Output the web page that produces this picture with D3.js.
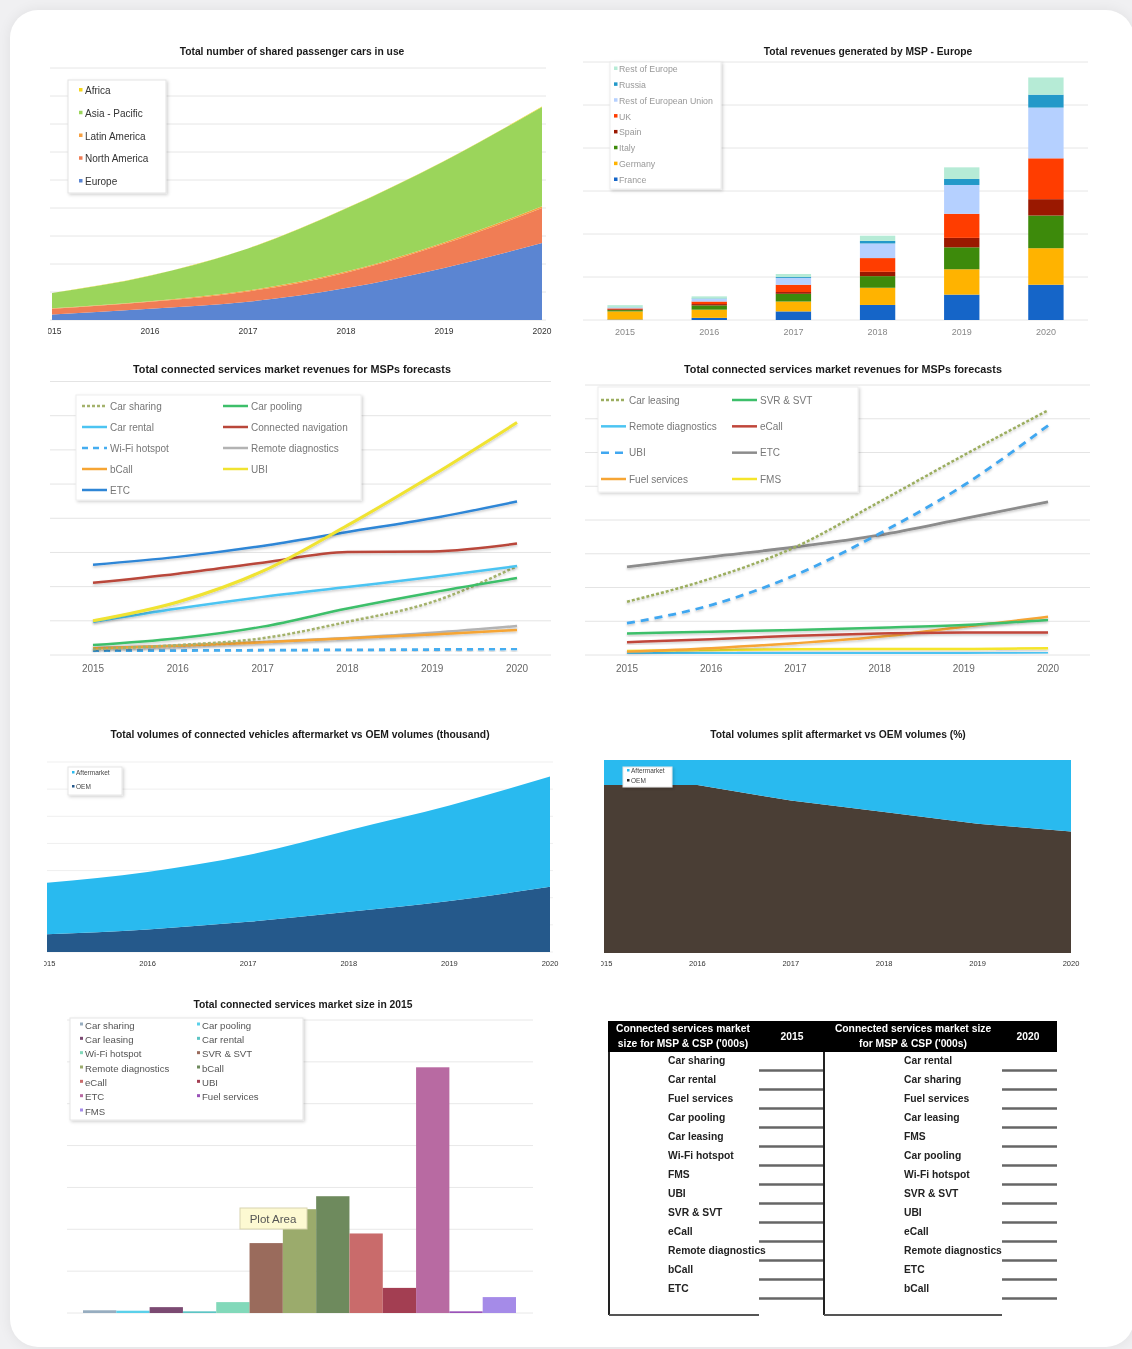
<!DOCTYPE html>
<html>
<head>
<meta charset="utf-8">
<script src="https://cdn.jsdelivr.net/npm/d3@7"></script>
<style>
  body { margin: 0; background: #f0f0f2; width: 1132px; height: 1349px; overflow: hidden; position: relative; }
  #card { position: absolute; left: 10px; top: 10px; width: 1124px; height: 1337px; background: #fff;
          border-radius: 28px; box-shadow: 0 0 14px rgba(0,0,0,0.07); }
  #chart { position: absolute; left: 0; top: 0; filter: blur(0.6px); }
</style>
</head>
<body>
<div id="card"></div>
<svg id="chart" width="1132" height="1349"></svg>
<script>
var years = ["2015", "2016", "2017", "2018", "2019", "2020"];

// 1. shared passenger cars in use (thousand)
var regions = ["Europe", "North America", "Latin America", "Asia - Pacific", "Africa"];
var carsEurope = [20, 40, 65, 114, 186, 275];
var carsNorthAm = [20, 25, 37, 55, 86, 125];
var carsLatAm = [2, 2, 3, 4, 5, 6];
var carsAsiaPac = [54, 91, 150, 225, 290, 355];
var carsAfrica = [0.5, 0.6, 0.8, 1, 1.2, 1.5];

// 2. MSP revenues Europe
var countries = ["France", "Germany", "Italy", "Spain", "UK", "Rest of European Union", "Russia", "Rest of Europe"];
var revFrance = [1, 5, 20, 35, 59, 82];
var revGermany = [19, 19, 23, 40, 59, 85];
var revItaly = [3, 10, 18, 27, 51, 76];
var revSpain = [2, 3, 4, 10, 22, 38];
var revUK = [2, 6, 17, 32, 56, 95];
var revRestEU = [2, 6, 16, 34, 67, 118];
var revRussia = [0.5, 1, 2, 6, 14, 30];
var revRestEurope = [5, 5, 7, 12, 27, 40];

// 3. connected services revenues forecast (a)
var fcA_carSharing = [1.7, 2.9, 4.9, 9.7, 15.5, 26];
var fcA_carPooling = [2.9, 4.9, 8.3, 13.6, 18.3, 22.5];
var fcA_carRental = [9.7, 13.6, 17, 19.9, 22.8, 26];
var fcA_connNav = [21.1, 23.8, 27, 30.1, 30.3, 32.6];
var fcA_wifi = [1.2, 1.3, 1.4, 1.5, 1.6, 1.8];
var fcA_remoteDiag = [2, 2.8, 3.8, 5, 6.5, 8.5];
var fcA_bCall = [2, 2.7, 3.7, 4.9, 6, 7.3];
var fcA_ubi = [10, 15.5, 24.5, 37.9, 52.5, 68];
var fcA_etc = [26.4, 28.7, 31.9, 36, 40, 44.9];

// 4. connected services revenues forecast (b)
var fcB_carLeasing = [15.8, 22.7, 32, 45.4, 59.2, 72.5];
var fcB_svr = [6.4, 6.9, 7.4, 8.1, 8.9, 10.4];
var fcB_remoteDiag = [0.6, 0.6, 0.6, 0.7, 0.7, 0.8];
var fcB_eCall = [3.8, 4.7, 5.7, 6.4, 6.7, 6.7];
var fcB_ubi = [9.4, 14.8, 23.7, 36, 50.3, 68];
var fcB_etc = [26.1, 29.1, 32, 35.5, 40.4, 45.4];
var fcB_fuel = [1, 2, 3.5, 5.4, 8.4, 11.3];
var fcB_fms = [1.2, 1.5, 1.7, 1.8, 1.8, 2];

// 5. connected vehicles volumes (thousand)
var volOEM = [65, 83, 111, 148, 188, 240];
var volAfter = [190, 212, 246, 301, 352, 407];

// 6. split (%)
var shareOEM = [87, 87, 79, 73, 67, 63];
var shareAfter = [13, 13, 21, 27, 33, 37];

// 7. market size 2015
var services = ["Car sharing", "Car pooling", "Car leasing", "Car rental", "Wi-Fi hotspot", "SVR & SVT",
                "Remote diagnostics", "bCall", "eCall", "UBI", "ETC", "Fuel services", "FMS"];
var size2015 = [6.5, 5.5, 14, 4, 26, 167, 248, 279, 190, 60, 587, 4, 38];

// 8. ranking table
var rank2015 = ["Car sharing", "Car rental", "Fuel services", "Car pooling", "Car leasing", "Wi-Fi hotspot", "FMS",
                "UBI", "SVR & SVT", "eCall", "Remote diagnostics", "bCall", "ETC"];
var rank2020 = ["Car rental", "Car sharing", "Fuel services", "Car leasing", "FMS", "Car pooling", "Wi-Fi hotspot",
                "SVR & SVT", "UBI", "eCall", "Remote diagnostics", "ETC", "bCall"];

var svg = d3.select("#chart");
var FONT = "Liberation Sans, Arial, sans-serif";

var defs = svg.append("defs");
var sh = defs.append("filter").attr("id", "shadow").attr("x", "-10%").attr("y", "-10%").attr("width", "130%").attr("height", "130%");
sh.append("feDropShadow").attr("dx", 1.5).attr("dy", 1.5).attr("stdDeviation", 1.5).attr("flood-color", "#000").attr("flood-opacity", 0.18);
var lsh = defs.append("filter").attr("id", "lineshadow").attr("x", "-5%").attr("y", "-20%").attr("width", "110%").attr("height", "140%");
lsh.append("feDropShadow").attr("dx", 0).attr("dy", 1.5).attr("stdDeviation", 1).attr("flood-color", "#000").attr("flood-opacity", 0.22);

function title(x, y, txt, size) {
  svg.append("text")
    .attr("x", x).attr("y", y)
    .attr("text-anchor", "middle")
    .attr("font-family", FONT)
    .attr("font-weight", "bold")
    .style("font-size", size || "10.3px")
    .style("fill", "#1a1a1a")
    .text(txt);
}

function grid(yScale, ticks, x0, x1, color) {
  svg.append("g").selectAll("line")
    .data(yScale.ticks(ticks))
    .enter().append("line")
    .attr("x1", x0).attr("x2", x1)
    .attr("y1", function(d) { return yScale(d); })
    .attr("y2", function(d) { return yScale(d); })
    .style("stroke", color || "#e6e6e6")
    .style("stroke-width", 1);
}

function xLabels(xScale, y, size, color, clipId) {
  var g = svg.append("g");
  if (clipId) g.attr("clip-path", "url(#" + clipId + ")");
  g.selectAll("text")
    .data(years)
    .enter().append("text")
    .attr("x", function(d) { return xScale(d) + (xScale.bandwidth ? xScale.bandwidth() / 2 : 0); })
    .attr("y", y)
    .attr("text-anchor", "middle")
    .attr("font-family", FONT)
    .style("font-size", size)
    .style("fill", color)
    .text(function(d) { return d; });
}

function clip(id, x, y, w, h) {
  defs.append("clipPath").attr("id", id).append("rect")
    .attr("x", x).attr("y", y).attr("width", w).attr("height", h);
}

function rows(keys, arrays) {
  return years.map(function(yr, i) {
    var r = { year: yr };
    keys.forEach(function(k, j) { r[k] = arrays[j][i]; });
    return r;
  });
}

// ---------- 1. shared passenger cars ----------
(function() {
  title(292, 55, "Total number of shared passenger cars in use");
  var x = d3.scalePoint().domain(years).range([52, 542]);
  var y = d3.scaleLinear().domain([0, 900]).range([320, 68]);
  grid(y, 9, 50, 546);
  var colors = ["#5b85d2", "#f07d55", "#f7a040", "#9bd55b", "#f5d61a"];
  var data = rows(regions, [carsEurope, carsNorthAm, carsLatAm, carsAsiaPac, carsAfrica]);
  var series = d3.stack().keys(regions)(data);
  var area = d3.area()
    .x(function(d) { return x(d.data.year); })
    .y0(function(d) { return y(d[0]); })
    .y1(function(d) { return y(d[1]); })
    .curve(d3.curveMonotoneX);
  svg.append("g").selectAll("path").data(series).enter().append("path")
    .attr("d", area)
    .style("fill", function(d, i) { return colors[i]; });
  clip("clip1", 48, 300, 510, 50);
  xLabels(x, 334, "8.5px", "#333", "clip1");

  var lg = svg.append("g");
  lg.append("rect").attr("x", 68).attr("y", 80).attr("width", 98).attr("height", 113)
    .style("fill", "#fff").style("stroke", "#e3e3e3").attr("filter", "url(#shadow)");
  var order = regions.slice().reverse();
  var cOrder = colors.slice().reverse();
  var ly = d3.scalePoint().domain(order).range([92, 183]);
  order.forEach(function(name, i) {
    lg.append("rect").attr("x", 79).attr("y", ly(name) - 4).attr("width", 3.5).attr("height", 3.5).style("fill", cOrder[i]);
    lg.append("text").attr("x", 85).attr("y", ly(name) + 2).attr("font-family", FONT)
      .style("font-size", "10px").style("fill", "#333").text(name);
  });
})();

// ---------- 2. revenues by MSP Europe ----------
(function() {
  title(868, 55, "Total revenues generated by MSP - Europe");
  var x = d3.scaleBand().domain(years).range([583, 1088]).paddingInner(0.58).paddingOuter(0.29);
  var y = d3.scaleLinear().domain([0, 600]).range([320, 62]);
  grid(y, 6, 583, 1088);
  var colors = ["#1565c8", "#ffb300", "#3d8a0b", "#9a1800", "#ff3d00", "#b5d0ff", "#2399c9", "#b6ebd6"];
  var data = rows(countries, [revFrance, revGermany, revItaly, revSpain, revUK, revRestEU, revRussia, revRestEurope]);
  var series = d3.stack().keys(countries)(data);
  svg.append("g").selectAll("g").data(series).enter().append("g")
    .style("fill", function(d, i) { return colors[i]; })
    .selectAll("rect").data(function(d) { return d; }).enter().append("rect")
    .attr("x", function(d) { return x(d.data.year); })
    .attr("width", x.bandwidth())
    .attr("y", function(d) { return y(d[1]); })
    .attr("height", function(d) { return y(d[0]) - y(d[1]); });
  xLabels(x, 335, "9px", "#888");

  var lg = svg.append("g");
  lg.append("rect").attr("x", 610).attr("y", 62).attr("width", 111).attr("height", 127)
    .style("fill", "#fff").style("stroke", "#ececec").attr("filter", "url(#shadow)");
  var order = countries.slice().reverse();
  var cOrder = colors.slice().reverse();
  var ly = d3.scalePoint().domain(order).range([70, 181]);
  order.forEach(function(name, i) {
    lg.append("rect").attr("x", 614).attr("y", ly(name) - 3.5).attr("width", 3.5).attr("height", 3.5).style("fill", cOrder[i]);
    lg.append("text").attr("x", 619).attr("y", ly(name) + 2).attr("font-family", FONT)
      .style("font-size", "8.8px").style("fill", "#999").text(name);
  });
})();

// ---------- line chart helper ----------
function lineChart(opts) {
  title(opts.titleX, 373, "Total connected services market revenues for MSPs forecasts", "10.8px");
  var x = d3.scalePoint().domain(years).range(opts.xRange);
  var y = d3.scaleLinear().domain([0, 80]).range([655, opts.yTop]);
  grid(y, 8, opts.gx0, opts.gx1, "#e4e4e4");
  var line = d3.line()
    .x(function(d, i) { return x(years[i]); })
    .y(function(d) { return y(d); })
    .curve(d3.curveMonotoneX);
  var g = svg.append("g");
  opts.series.forEach(function(s) {
    g.append("path")
      .datum(s.values)
      .attr("d", line)
      .attr("filter", "url(#lineshadow)")
      .style("fill", "none")
      .style("stroke", s.color)
      .style("stroke-width", s.width || 2.5)
      .style("stroke-dasharray", s.dash || null);
  });
  xLabels(x, 672, "10px", "#666");

  var lg = svg.append("g");
  var b = opts.legendBox;
  lg.append("rect").attr("x", b[0]).attr("y", b[1]).attr("width", b[2]).attr("height", b[3])
    .style("fill", "#fff").style("stroke", "#eeeeee").attr("filter", "url(#shadow)");
  opts.legend.forEach(function(item) {
    var s = opts.series.filter(function(t) { return t.name === item.name; })[0];
    lg.append("line").attr("x1", item.x).attr("x2", item.x + 25).attr("y1", item.y).attr("y2", item.y)
      .style("stroke", s.color).style("stroke-width", 2.5).style("stroke-dasharray", s.dash || null);
    lg.append("text").attr("x", item.x + 28).attr("y", item.y + 3.5).attr("font-family", FONT)
      .style("font-size", "10px").style("fill", "#777").text(item.name);
  });
}

// ---------- 3. forecasts (a) ----------
(function() {
  var series = [
    { name: "Wi-Fi hotspot", values: fcA_wifi, color: "#45adf0", dash: "6,5", width: 2.8 },
    { name: "Remote diagnostics", values: fcA_remoteDiag, color: "#b3b3b3" },
    { name: "bCall", values: fcA_bCall, color: "#f6a534" },
    { name: "Car sharing", values: fcA_carSharing, color: "#a4b26c", dash: "3,2" },
    { name: "Car pooling", values: fcA_carPooling, color: "#3dbf6a" },
    { name: "Car rental", values: fcA_carRental, color: "#4cc4f2" },
    { name: "Connected navigation", values: fcA_connNav, color: "#b9473a" },
    { name: "ETC", values: fcA_etc, color: "#2f86d6" },
    { name: "UBI", values: fcA_ubi, color: "#f0e330", width: 3 }
  ];
  var c1 = 82, c2 = 223;
  var ry = d3.scalePoint().domain(d3.range(5)).range([406, 490]);
  var legend = [
    { name: "Car sharing", x: c1, y: ry(0) }, { name: "Car pooling", x: c2, y: ry(0) },
    { name: "Car rental", x: c1, y: ry(1) }, { name: "Connected navigation", x: c2, y: ry(1) },
    { name: "Wi-Fi hotspot", x: c1, y: ry(2) }, { name: "Remote diagnostics", x: c2, y: ry(2) },
    { name: "bCall", x: c1, y: ry(3) }, { name: "UBI", x: c2, y: ry(3) },
    { name: "ETC", x: c1, y: ry(4) }
  ];
  lineChart({ titleX: 292, xRange: [93, 517], yTop: 381.5, gx0: 50, gx1: 551,
              series: series, legend: legend, legendBox: [76, 395, 285, 105] });
})();

// ---------- 4. forecasts (b) ----------
(function() {
  var series = [
    { name: "Remote diagnostics", values: fcB_remoteDiag, color: "#4cc4f2" },
    { name: "FMS", values: fcB_fms, color: "#f5e52a" },
    { name: "Fuel services", values: fcB_fuel, color: "#f6a534" },
    { name: "eCall", values: fcB_eCall, color: "#c0463a" },
    { name: "SVR & SVT", values: fcB_svr, color: "#3dbf6a" },
    { name: "ETC", values: fcB_etc, color: "#8c8c8c", width: 2.8 },
    { name: "UBI", values: fcB_ubi, color: "#40a7f0", dash: "8,6", width: 2.8 },
    { name: "Car leasing", values: fcB_carLeasing, color: "#9cae60", dash: "3,2" }
  ];
  var c1 = 601, c2 = 732;
  var ry = d3.scalePoint().domain(d3.range(4)).range([400, 479]);
  var legend = [
    { name: "Car leasing", x: c1, y: ry(0) }, { name: "SVR & SVT", x: c2, y: ry(0) },
    { name: "Remote diagnostics", x: c1, y: ry(1) }, { name: "eCall", x: c2, y: ry(1) },
    { name: "UBI", x: c1, y: ry(2) }, { name: "ETC", x: c2, y: ry(2) },
    { name: "Fuel services", x: c1, y: ry(3) }, { name: "FMS", x: c2, y: ry(3) }
  ];
  lineChart({ titleX: 843, xRange: [627, 1048], yTop: 385, gx0: 585, gx1: 1090,
              series: series, legend: legend, legendBox: [598, 387, 260, 105] });
})();

// ---------- small legend helper for volume charts ----------
function tinyLegend(x0, y0, w, h, names, colors, rowY) {
  var lg = svg.append("g");
  lg.append("rect").attr("x", x0).attr("y", y0).attr("width", w).attr("height", h)
    .style("fill", "#fff").style("stroke", "#e6e6e6").attr("filter", "url(#shadow)");
  names.forEach(function(n, i) {
    lg.append("rect").attr("x", x0 + 4).attr("y", rowY(n) - 3).attr("width", 2.5).attr("height", 2.5).style("fill", colors[i]);
    lg.append("text").attr("x", x0 + 8).attr("y", rowY(n) + 1).attr("font-family", FONT)
      .style("font-size", "6.5px").style("fill", "#444").text(n);
  });
}

// ---------- 5. volumes aftermarket vs OEM ----------
(function() {
  title(300, 738, "Total volumes of connected vehicles aftermarket vs OEM volumes (thousand)");
  var x = d3.scalePoint().domain(years).range([47, 550]);
  var y = d3.scaleLinear().domain([0, 700]).range([952, 762]);
  grid(y, 7, 47, 553, "#efefef");
  var keys = ["OEM", "Aftermarket"];
  var colors = ["#25598b", "#29baef"];
  var series = d3.stack().keys(keys)(rows(keys, [volOEM, volAfter]));
  var area = d3.area()
    .x(function(d) { return x(d.data.year); })
    .y0(function(d) { return y(d[0]); })
    .y1(function(d) { return y(d[1]); })
    .curve(d3.curveMonotoneX);
  svg.append("g").selectAll("path").data(series).enter().append("path")
    .attr("d", area).style("fill", function(d, i) { return colors[i]; });
  clip("clip5", 44, 950, 520, 25);
  xLabels(x, 966, "7.5px", "#333", "clip5");
  var ly = d3.scalePoint().domain(["Aftermarket", "OEM"]).range([774, 788]);
  tinyLegend(68, 767, 54, 28, ["Aftermarket", "OEM"], ["#29baef", "#25598b"], ly);
})();

// ---------- 6. split % ----------
(function() {
  title(838, 738, "Total volumes split aftermarket vs OEM volumes (%)");
  var x = d3.scalePoint().domain(years).range([604, 1071]);
  var y = d3.scaleLinear().domain([0, 100]).range([953, 760]);
  var keys = ["OEM", "Aftermarket"];
  var colors = ["#4a3e35", "#29baef"];
  var series = d3.stack().keys(keys)(rows(keys, [shareOEM, shareAfter]));
  var area = d3.area()
    .x(function(d) { return x(d.data.year); })
    .y0(function(d) { return y(d[0]); })
    .y1(function(d) { return y(d[1]); });
  svg.append("g").selectAll("path").data(series).enter().append("path")
    .attr("d", area).style("fill", function(d, i) { return colors[i]; });
  clip("clip6", 601, 950, 490, 25);
  xLabels(x, 966, "7.5px", "#333", "clip6");
  var ly = d3.scalePoint().domain(["Aftermarket", "OEM"]).range([772, 782]);
  tinyLegend(623, 767, 49, 20, ["Aftermarket", "OEM"], ["#29baef", "#2a2a2a"], ly);
})();

// ---------- 7. market size 2015 ----------
(function() {
  title(303, 1008, "Total connected services market size in 2015");
  var x = d3.scaleBand().domain(services).range([83, 516]).padding(0);
  var y = d3.scaleLinear().domain([0, 700]).range([1313, 1020]);
  grid(y, 7, 67, 533, "#e8e8e8");
  var colors = ["#97adc0", "#5ad0ea", "#7b4a72", "#5cc4c4", "#82d9ba", "#9a6b5c", "#9bab6c", "#6e8a5d",
                "#c96b6b", "#a33e52", "#b86aa2", "#9a52b8", "#a58be8"];
  svg.append("g").selectAll("rect").data(services).enter().append("rect")
    .attr("x", function(d) { return x(d); })
    .attr("width", x.bandwidth())
    .attr("y", function(d, i) { return y(size2015[i]); })
    .attr("height", function(d, i) { return y(0) - y(size2015[i]); })
    .style("fill", function(d, i) { return colors[i]; });

  var lg = svg.append("g");
  lg.append("rect").attr("x", 70).attr("y", 1018).attr("width", 233).attr("height", 102)
    .style("fill", "#fff").style("stroke", "#e6e6e6").attr("filter", "url(#shadow)");
  var ry = d3.scalePoint().domain(d3.range(7)).range([1026, 1112]);
  services.forEach(function(name, i) {
    var cx = i % 2 === 0 ? 80 : 197;
    var cy = ry(Math.floor(i / 2));
    lg.append("rect").attr("x", cx).attr("y", cy - 3.5).attr("width", 3).attr("height", 3).style("fill", colors[i]);
    lg.append("text").attr("x", cx + 5).attr("y", cy + 2.5).attr("font-family", FONT)
      .style("font-size", "9.6px").style("fill", "#555").text(name);
  });

  // tooltip left in the screenshot
  svg.append("rect").attr("x", 240).attr("y", 1208).attr("width", 67).attr("height", 21)
    .style("fill", "#fdf9d2").style("stroke", "#d8d4b0");
  svg.append("text").attr("x", 273).attr("y", 1223).attr("text-anchor", "middle")
    .attr("font-family", FONT).style("font-size", "11.5px").style("fill", "#555").text("Plot Area");
})();

// ---------- 8. ranking table ----------
(function() {
  var TF = "Liberation Sans Narrow, Arial Narrow, Liberation Sans, sans-serif";
  svg.append("rect").attr("x", 608).attr("y", 1021).attr("width", 449).attr("height", 31).style("fill", "#000");
  var head = svg.append("g").attr("font-family", TF).attr("font-weight", "bold")
    .style("font-size", "10.3px").style("fill", "#fff");
  head.append("text").attr("x", 683).attr("y", 1032).attr("text-anchor", "middle").text("Connected services market");
  head.append("text").attr("x", 683).attr("y", 1047).attr("text-anchor", "middle").text("size for MSP & CSP ('000s)");
  head.append("text").attr("x", 792).attr("y", 1040).attr("text-anchor", "middle").text("2015");
  head.append("text").attr("x", 913).attr("y", 1032).attr("text-anchor", "middle").text("Connected services market size");
  head.append("text").attr("x", 913).attr("y", 1047).attr("text-anchor", "middle").text("for MSP & CSP ('000s)");
  head.append("text").attr("x", 1028).attr("y", 1040).attr("text-anchor", "middle").text("2020");

  var ry = d3.scaleBand().domain(d3.range(rank2015.length)).range([1052, 1299]);
  var cols = [
    { names: rank2015, textX: 668, lineX0: 759, lineX1: 824, borderX: 609, bottomX1: 759 },
    { names: rank2020, textX: 904, lineX0: 1002, lineX1: 1057, borderX: 824, bottomX1: 1002 }
  ];
  cols.forEach(function(c) {
    var g = svg.append("g");
    g.append("line").attr("x1", c.borderX).attr("x2", c.borderX).attr("y1", 1052).attr("y2", 1315)
      .style("stroke", "#222").style("stroke-width", 2);
    g.append("line").attr("x1", c.borderX).attr("x2", c.bottomX1).attr("y1", 1315).attr("y2", 1315)
      .style("stroke", "#555").style("stroke-width", 2);
    g.selectAll("text").data(c.names).enter().append("text")
      .attr("x", c.textX)
      .attr("y", function(d, i) { return ry(i) + ry.bandwidth() / 2 + 2.5; })
      .attr("font-family", TF).attr("font-weight", "bold")
      .style("font-size", "10.3px").style("fill", "#222")
      .text(function(d) { return d; });
    g.selectAll("line.sep").data(c.names).enter().append("line")
      .attr("class", "sep")
      .attr("x1", c.lineX0).attr("x2", c.lineX1)
      .attr("y1", function(d, i) { return ry(i) + ry.bandwidth() - 0.5; })
      .attr("y2", function(d, i) { return ry(i) + ry.bandwidth() - 0.5; })
      .style("stroke", "#666").style("stroke-width", 2.5);
  });
})();
</script>
</body>
</html>
